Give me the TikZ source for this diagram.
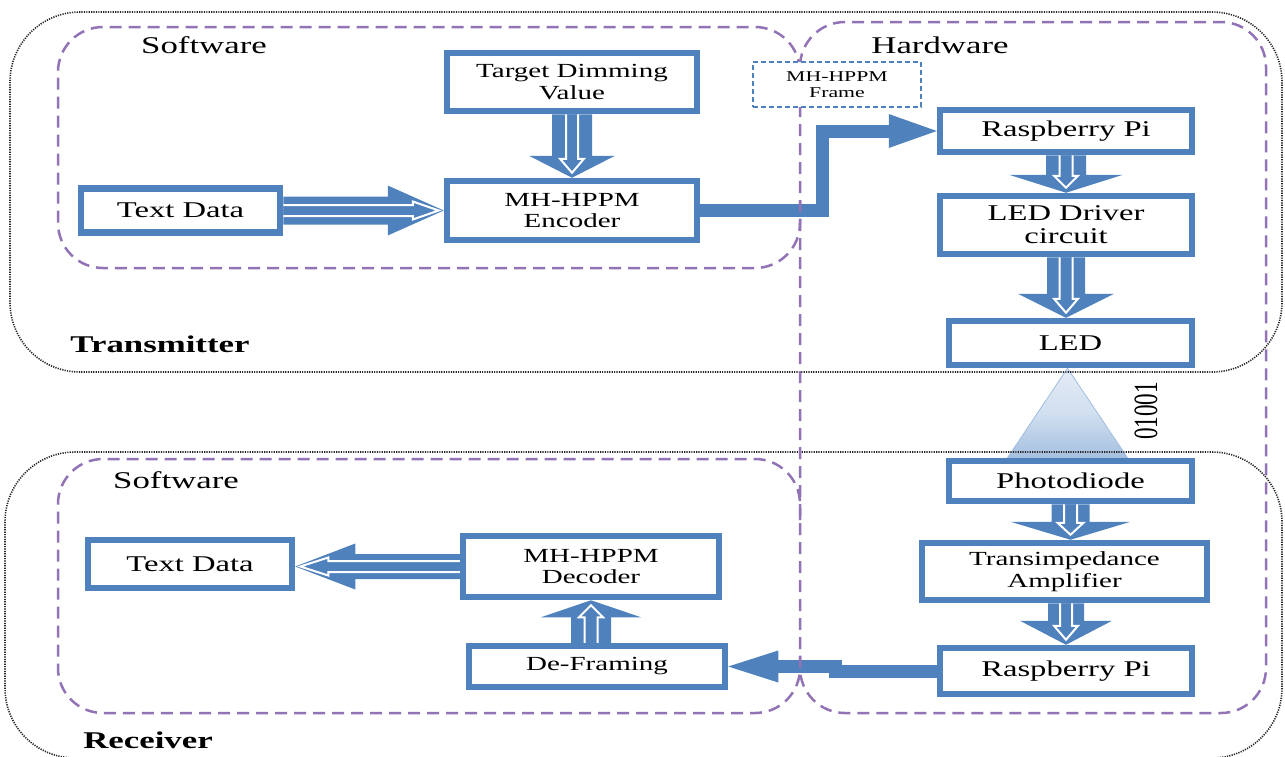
\documentclass[tikz,border=0pt]{standalone}
\usepackage{fontspec}
\setmainfont{Liberation Serif}[FakeStretch=1.45]
\usetikzlibrary{calc,backgrounds}
\definecolor{bxblue}{RGB}{79,129,189}
\definecolor{purp}{RGB}{145,115,182}
\definecolor{tria}{RGB}{228,236,246}
\definecolor{trib}{RGB}{165,192,224}
\definecolor{triedge}{RGB}{160,190,225}
% hollow block arrow: start, end, shaft w, head w, head len, inner shaft w, inner head w, inner head len
\newcommand\holarrow[8]{%
  \coordinate (hA) at (#1);
  \coordinate (hB) at (#2);
  \coordinate (hH) at ($(hB)!#5!(hA)$);
  \fill[bxblue] ($(hA)!#3/2!90:(hB)$) -- ($(hH)!#3/2!90:(hB)$) -- ($(hH)!#4/2!90:(hB)$) -- (hB)
     -- ($(hH)!#4/2!-90:(hB)$) -- ($(hH)!#3/2!-90:(hB)$) -- ($(hA)!#3/2!-90:(hB)$) -- cycle;
  \coordinate (hT) at ($(hB)!5pt!(hA)$);
  \coordinate (hI) at ($(hT)!#8!(hA)$);
  \filldraw[fill=bxblue, draw=white, line width=2pt, line join=miter, miter limit=4]
     ($(hA)!#6/2!90:(hB)$) -- ($(hI)!#6/2!90:(hB)$) -- ($(hI)!#7/2!90:(hB)$) -- (hT)
     -- ($(hI)!#7/2!-90:(hB)$) -- ($(hI)!#6/2!-90:(hB)$) -- ($(hA)!#6/2!-90:(hB)$);
}
\begin{document}
\begin{tikzpicture}[x=1pt,y=-1pt,
  box/.style={draw=bxblue, line width=6.5pt, fill=white, align=center, inner sep=0pt, text=black},
  fa/.style={font=\fontsize{22.5}{23}\selectfont},
  fb/.style={font=\fontsize{20}{21.5}\selectfont},
  lab/.style={font=\fontsize{24}{24}\selectfont, inner sep=0pt},
  blab/.style={font=\bfseries\fontsize{24}{24}\selectfont, inner sep=0pt},
  purpbox/.style={draw=purp, line width=2.5pt, dash pattern=on 12pt off 7pt, rounded corners=45pt},
  outerbox/.style={draw=black!85, line width=1.6pt, dash pattern=on 1.2pt off 1.2pt, rounded corners=70pt},
  framebox/.style={draw=bxblue, line width=1.2pt, dash pattern=on 5pt off 3pt, fill=white, align=center, inner sep=0pt, font=\fontsize{15}{16}\selectfont},
  elb/.style={draw=bxblue, line width=13pt, line join=miter}]

\useasboundingbox (0,0) rectangle (1285,756);

% blocks
\node[box,fb,minimum width=250pt,minimum height=58pt] (target) at (572,82) {Target Dimming\\Value};
\node[box,fb,minimum width=250pt,minimum height=59pt] (enc) at (572,210.5) {MH-HPPM\\Encoder};
\node[box,fa,minimum width=199pt,minimum height=44pt] (txt1) at (180.5,210.5) {Text Data};
\node[box,fa,minimum width=252pt,minimum height=42pt] (rpi1) at (1066,131) {Raspberry Pi};
\node[box,fa,minimum width=252pt,minimum height=58pt] (drv) at (1066,225) {LED Driver\\circuit};
\node[box,fa,minimum width=243pt,minimum height=44pt] (led) at (1070.5,343) {LED};
\node[box,fa,minimum width=243pt,minimum height=40pt] (pd) at (1070.5,481) {Photodiode};
\node[box,fb,minimum width=285pt,minimum height=57pt] (tia) at (1064.5,571.5) {Transimpedance\\Amplifier};
\node[box,fa,minimum width=252pt,minimum height=46pt] (rpi2) at (1066,671) {Raspberry Pi};
\node[box,fa,minimum width=204pt,minimum height=48pt] (txt2) at (190,564) {Text Data};
\node[box,fb,minimum width=256pt,minimum height=61pt] (dec) at (591,566.5) {MH-HPPM\\Decoder};
\node[box,fb,minimum width=256pt,minimum height=41pt] (defr) at (597,666.5) {De-Framing};

% background: light beam and outer dotted frames
\begin{pgfonlayer}{background}
  \shadedraw[top color=tria, bottom color=trib, middle color=tria!70!trib, draw=triedge, line width=0.8pt]
    ($(led.south)+(-3,0)$) -- ($(pd.north)+(-63,0)$) -- ($(pd.north)+(57,0)$) -- cycle;
  \draw[outerbox] (10,12) rectangle (1282,372);
  \draw[outerbox] (5,452) rectangle (1282,758);
\end{pgfonlayer}

% hollow block arrows
\holarrow{txt1.east}{enc.west}{28pt}{50pt}{56pt}{11pt}{18pt}{26pt}
\holarrow{target.south}{enc.north}{40pt}{86pt}{22pt}{12pt}{24pt}{14pt}
\holarrow{rpi1.south}{drv.north}{40pt}{114pt}{18pt}{13pt}{24pt}{12pt}
\holarrow{drv.south}{drv.south |- led.north}{38pt}{96pt}{24pt}{13pt}{24pt}{14pt}
\holarrow{pd.south}{pd.south |- tia.north}{38pt}{120pt}{18pt}{13pt}{26pt}{12pt}
\holarrow{rpi2.north |- tia.south}{rpi2.north}{36pt}{92pt}{24pt}{12pt}{24pt}{14pt}
\holarrow{dec.south |- defr.north}{dec.south}{40pt}{100pt}{17pt}{13pt}{24pt}{12pt}
\holarrow{dec.west}{dec.west -| txt2.east}{25pt}{46pt}{60pt}{11pt}{18pt}{28pt}

% elbow arrows
\coordinate (e1) at (822,0);
\draw[elb] (enc.east) -- (enc.east -| e1) -- (e1 |- rpi1.west) -- ($(rpi1.west)+(-47,0)$);
\fill[bxblue] ($(rpi1.west)+(-48,-17)$) -- (rpi1.west) -- ($(rpi1.west)+(-48,17)$) -- cycle;
\coordinate (e2) at (835,0);
\draw[elb] (rpi2.west) -- (rpi2.west -| e2) -- (e2 |- defr.east) -- ($(defr.east)+(49,0)$);
\fill[bxblue] ($(defr.east)+(50,-16)$) -- (defr.east) -- ($(defr.east)+(50,16)$) -- cycle;

% dashed purple regions
\draw[purpbox] (800,90) -- (800,27) -- (58,27) -- (58,268) -- (800,268) -- (800,200);
\draw[purpbox] (800,22) rectangle (1266,713);
\draw[purpbox] (800,520) -- (800,459) -- (58,459) -- (58,713) -- (800,713) -- (800,650);

% frame label
\node[framebox, minimum width=168pt, minimum height=45pt] (frame) at (837,84.5) {MH-HPPM\\Frame};

% labels
\node[lab] (swt) at (204,45) {Software};
\node[lab] (hw) at (940,45) {Hardware};
\node[lab] (swr) at (176,480) {Software};
\node[blab] (tx) at (160,344) {Transmitter};
\node[blab] (rx) at (148,740) {Receiver};
\node[rotate=90, font=\fontsize{34}{34}\selectfont, inner sep=0pt] (bits) at (1146,411) {\scalebox{0.47}[1]{01001}};
\end{tikzpicture}
\end{document}
